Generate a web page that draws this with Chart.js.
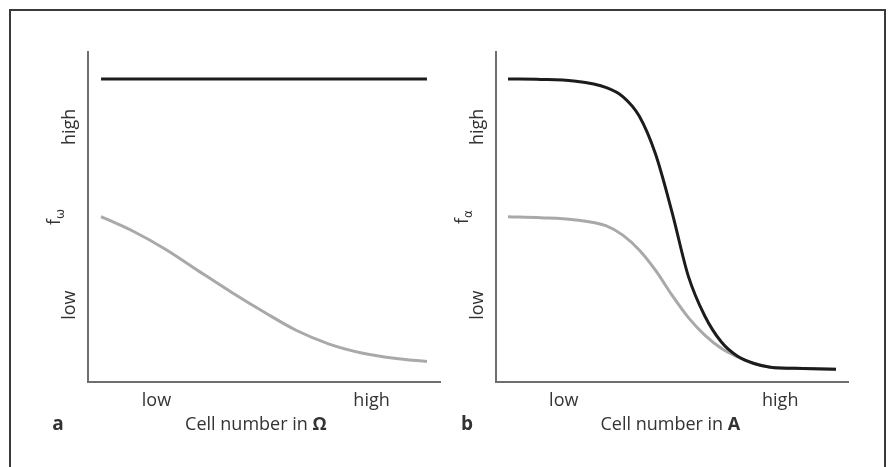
<!DOCTYPE html>
<html>
<head>
<meta charset="utf-8">
<script src="https://cdn.jsdelivr.net/npm/chart.js@4.4.0/dist/chart.umd.min.js"></script>
<style>
  html, body { margin: 0; padding: 0; background: #ffffff; width: 890px; height: 467px; overflow: hidden; }
  #frame { position: absolute; left: 9px; top: 9px; width: 877px; height: 480px; box-sizing: border-box; border: 2px solid #3a3a3a; }
  canvas { position: absolute; top: 0; }
  #ca { left: 0; }
  #cb { left: 445px; }
</style>
</head>
<body>
<div id="frame"></div>
<canvas id="ca" width="445" height="467"></canvas>
<canvas id="cb" width="445" height="467"></canvas>
<script>
// ---- Data (relative units, 0..100 on y; 0..10 on x) ----
const xA = [0, 1, 2, 3, 4, 5, 6, 7, 8, 9, 10];
const aBlack = [91.8, 91.8, 91.8, 91.8, 91.8, 91.8, 91.8, 91.8, 91.8, 91.8, 91.8];
const aGray  = [50.1, 45.6, 40.1, 33.6, 27.2, 21.2, 15.6, 11.5, 8.8, 7.2, 6.2];

const xB = [0, 1, 2, 3, 3.5, 4, 4.5, 5, 5.5, 6, 6.5, 7, 7.5, 8, 9, 10];
const bBlack = [91.8, 91.7, 91.2, 89.2, 86.5, 80.6, 69.0, 51.5, 32.0, 20.0, 12.2, 7.8, 5.6, 4.5, 4.1, 3.9];
const bGray  = [50.1, 49.8, 49.2, 47.3, 44.5, 40.0, 33.8, 26.3, 19.5, 14.2, 10.2, 7.6, 5.6, 4.5, 4.1, 3.9];

const xTickValues = [1.7, 8.3];
const xTickLabels = ['low', 'high'];
const yTickValues = [23.3, 77.3];
const yTickLabels = ['low', 'high'];
const yTitleValue = 50;

const TEXT = '#333333';
const FONT = '"Open Sans", "Liberation Sans", sans-serif';

function pts(xs, ys) { return xs.map((x, i) => ({ x: x, y: ys[i] })); }

const figureText = {
  id: 'figureText',
  afterDraw(chart, args, opts) {
    const ctx = chart.ctx;
    const xs = chart.scales.x, ys = chart.scales.y;
    const area = chart.chartArea;
    ctx.save();
    ctx.fillStyle = TEXT;
    // x tick labels
    ctx.font = '18px ' + FONT;
    ctx.textAlign = 'center';
    ctx.textBaseline = 'middle';
    xTickValues.forEach((v, i) => {
      ctx.fillText(xTickLabels[i], xs.getPixelForValue(v), area.bottom + 19);
    });
    // x title with bold last symbol
    const pre = 'Cell number in ';
    ctx.font = '18px ' + FONT;
    const w1 = ctx.measureText(pre).width;
    ctx.font = 'bold 18px ' + FONT;
    const w2 = ctx.measureText(opts.sym).width;
    const cx = xs.getPixelForValue(opts.titleCenter);
    const ty = area.bottom + 43;
    ctx.textAlign = 'left';
    ctx.font = '18px ' + FONT;
    ctx.fillText(pre, cx - (w1 + w2) / 2, ty);
    ctx.font = 'bold 18px ' + FONT;
    ctx.fillText(opts.sym, cx - (w1 + w2) / 2 + w1, ty);
    // panel letter
    ctx.font = 'bold 19px ' + FONT;
    ctx.textAlign = 'center';
    ctx.fillText(opts.letter, area.left + opts.letterDx, ty);
    // y tick labels (rotated)
    ctx.font = '18px ' + FONT;
    yTickValues.forEach((v, i) => {
      ctx.save();
      ctx.translate(area.left - 18, ys.getPixelForValue(v));
      ctx.rotate(-Math.PI / 2);
      ctx.textAlign = 'center';
      ctx.textBaseline = 'middle';
      ctx.fillText(yTickLabels[i], 0, 0);
      ctx.restore();
    });
    // y title f with subscript (rotated)
    ctx.save();
    ctx.translate(area.left - 28, ys.getPixelForValue(yTitleValue));
    ctx.rotate(-Math.PI / 2);
    ctx.textBaseline = 'alphabetic';
    ctx.textAlign = 'left';
    ctx.font = '18px ' + FONT;
    const fw = ctx.measureText('f').width;
    ctx.font = '12px "DejaVu Sans", ' + FONT;
    const sw = ctx.measureText(opts.sub).width;
    const start = -(fw + sw) / 2;
    ctx.font = '18px ' + FONT;
    ctx.fillText('f', start, 0);
    ctx.font = '12px "DejaVu Sans", ' + FONT;
    ctx.fillText(opts.sub, start + fw, 4);
    ctx.restore();
    ctx.restore();
  }
};

function makeChart(id, datasets, pad, xmin, xmax, textOpts) {
  return new Chart(document.getElementById(id), {
    type: 'line',
    data: { datasets: datasets },
    options: {
      responsive: false,
      animation: false,
      devicePixelRatio: 1,
      layout: { padding: pad },
      plugins: { legend: { display: false }, tooltip: { enabled: false }, figureText: textOpts },
      elements: { point: { radius: 0 } },
      scales: {
        x: {
          type: 'linear', min: xmin, max: xmax,
          grid: { display: false },
          ticks: { display: false },
          border: { display: true, color: '#6e6e6e', width: 2 },
          afterFit(s) { s.height = 0; }
        },
        y: {
          type: 'linear', min: 0, max: 100,
          grid: { display: false },
          ticks: { display: false },
          border: { display: true, color: '#6e6e6e', width: 2 },
          afterFit(s) { s.width = 0; }
        }
      }
    },
    plugins: [figureText]
  });
}

// dataset 0 is drawn on top in Chart.js, so the black curve goes first
makeChart('ca', [
  { data: pts(xA, aBlack), borderColor: '#1c1c1c', borderWidth: 3, fill: false },
  { data: pts(xA, aGray), borderColor: '#a9a9a9', borderWidth: 3, cubicInterpolationMode: 'monotone', fill: false }
], { left: 88, top: 52, right: 5, bottom: 85 }, -0.4, 10.4,
  { sym: 'Ω', letter: 'a', letterDx: -30, sub: 'ω', titleCenter: 4.75 });

makeChart('cb', [
  { data: pts(xB, bBlack), borderColor: '#1c1c1c', borderWidth: 3, cubicInterpolationMode: 'monotone', fill: false },
  { data: pts(xB, bGray), borderColor: '#a9a9a9', borderWidth: 3, cubicInterpolationMode: 'monotone', fill: false }
], { left: 51, top: 52, right: 42, bottom: 85 }, -0.366, 10.366,
  { sym: 'A', letter: 'b', letterDx: -29, sub: 'α', titleCenter: 4.95 });
</script>
</body>
</html>
